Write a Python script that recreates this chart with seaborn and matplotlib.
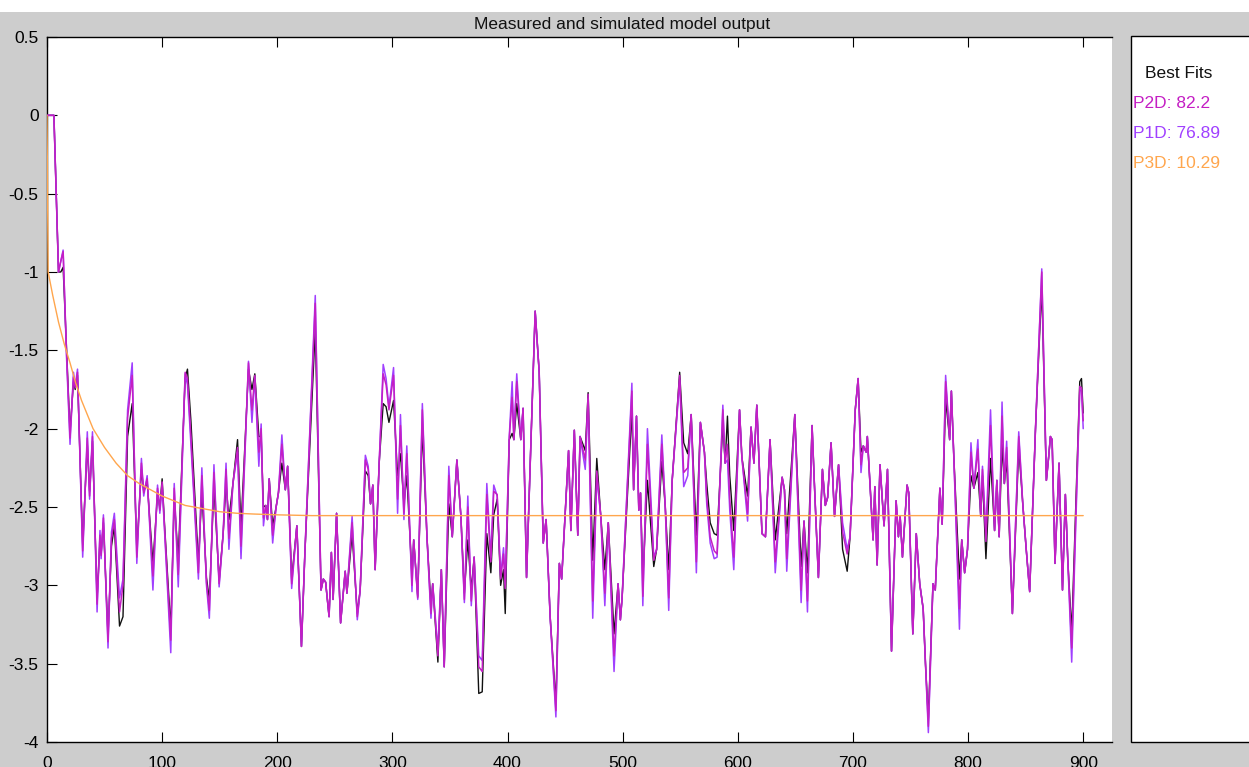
import numpy as np
import pandas as pd
import seaborn as sns
import matplotlib
matplotlib.use("Agg")
import matplotlib.pyplot as plt
from matplotlib.patches import Rectangle

# sample index of the turning points
t = [0, 6, 10, 12, 14, 17, 20, 23, 24.5, 26.5,
     31, 35, 37, 39.5, 43.5, 46, 47, 49, 53, 56,
     58.5, 63, 66, 70, 74, 78, 82, 84, 87, 92,
     96, 98, 100, 102, 107.5, 110.5, 114, 120, 122, 125,
     131.5, 134.5, 138.5, 141, 145, 149.5, 153, 155.5, 158, 161.5,
     165.5, 168.5, 175, 178, 180.5, 184, 186, 188, 190, 191.5,
     193, 196, 199, 201, 204, 207, 209, 212.5, 217, 221,
     224, 233, 238, 240, 242, 245, 247, 248.5, 251.5, 255,
     259, 260.5, 265, 269.5, 272, 276.5, 279, 281, 283, 285,
     288.5, 292, 294.5, 297, 301, 304.5, 307, 310, 312.5, 317,
     318.5, 322, 326, 330, 333.5, 335, 339.5, 342.5, 345, 349,
     352, 356, 359.5, 362.5, 365.5, 368.5, 371, 375, 378, 382,
     385.5, 388, 391, 394, 396.5, 398, 401.5, 404, 405.5, 408,
     411.5, 413.5, 416.5, 424, 427.5, 431, 433.5, 437, 442, 445,
     447, 453, 455, 458, 461, 463, 467.5, 470, 474, 477.5,
     481, 484.5, 487.5, 492.5, 496, 498, 499.5, 508, 509.5, 512,
     514, 515.5, 517.5, 521.5, 527, 529.5, 534, 537, 540, 543,
     549.5, 553, 556.5, 559.5, 564, 567.5, 571, 573, 576, 579.5,
     582, 587, 589, 591, 593, 596.5, 601.5, 603.5, 608.5, 611.5,
     614, 616.5, 621, 624, 628, 632.5, 638.5, 640.5, 642.5, 649.5,
     655, 657.5, 660.5, 664.5, 666.5, 670, 673.5, 676, 678, 681,
     684, 687.5, 691, 695, 697.5, 702, 704.5, 707, 709, 711.5,
     712.5, 717.5, 719, 721, 723.5, 727, 730, 733.5, 737.5, 739.5,
     741, 743, 747, 748.5, 752, 755, 758, 761, 763, 765.5,
     769.5, 771.5, 775.5, 777.5, 780.5, 784, 785.5, 787.5, 792.5, 794.5,
     797, 799.5, 802.5, 805, 808.5, 811, 812.5, 815.5, 819.5, 823,
     825, 827, 829.5, 831.5, 833.5, 838.5, 844, 847.5, 850.5, 853.5,
     858.5, 864, 868, 870, 871.5, 873, 875.5, 879, 882, 884.5,
     886.5, 890, 897, 898.5, 900]

measured = [0, 0, -1.0, -1.0, -0.97, -1.5, -2.02, -1.7, -1.75, -1.66,
            -2.74, -2.1, -2.4, -2.08, -3.08, -2.72, -2.8, -2.6, -3.32, -2.75,
            -2.62, -3.26, -3.2, -2.05, -1.84, -2.77, -2.26, -2.4, -2.34, -2.86,
            -2.42, -2.5, -2.32, -2.6, -3.28, -2.45, -2.83, -1.68, -1.62, -1.95,
            -2.86, -2.4, -2.95, -3.09, -2.37, -2.97, -2.67, -2.35, -2.58, -2.35,
            -2.07, -2.63, -1.62, -1.75, -1.65, -2.05, -2.05, -2.5, -2.49, -2.58,
            -2.32, -2.62, -2.5, -2.41, -2.22, -2.39, -2.24, -2.96, -2.62, -3.39,
            -2.79, -1.36, -3.03, -2.96, -2.98, -3.2, -2.79, -3.09, -2.54, -3.24,
            -2.91, -3.05, -2.67, -3.18, -3.03, -2.27, -2.3, -2.48, -2.36, -2.9,
            -2.22, -1.84, -1.86, -1.96, -1.82, -2.3, -2.16, -2.48, -2.3, -2.94,
            -2.71, -3.07, -1.99, -2.69, -3.13, -2.99, -3.49, -2.9, -3.52, -2.48,
            -2.69, -2.2, -2.56, -3.05, -2.71, -3.03, -2.82, -3.69, -3.68, -2.67,
            -2.92, -2.55, -2.45, -3.0, -2.9, -3.18, -2.07, -2.03, -2.07, -1.84,
            -2.07, -1.87, -2.95, -1.25, -1.64, -2.73, -2.58, -3.2, -3.75, -2.86,
            -2.96, -2.14, -2.65, -2.01, -2.68, -2.05, -2.14, -1.77, -2.84, -2.19,
            -2.56, -2.9, -2.6, -3.31, -2.99, -3.22, -3.08, -1.88, -2.39, -1.92,
            -2.52, -2.41, -2.96, -2.33, -2.88, -2.77, -2.21, -2.5, -2.9, -2.33,
            -1.64, -2.09, -2.16, -1.91, -2.68, -1.96, -2.15, -2.35, -2.6, -2.67,
            -2.68, -1.97, -2.22, -1.92, -2.3, -2.65, -1.88, -2.18, -2.43, -1.99,
            -2.22, -1.85, -2.67, -2.69, -2.07, -2.71, -2.31, -2.39, -2.67, -1.91,
            -2.88, -2.59, -2.92, -1.98, -2.35, -2.95, -2.26, -2.49, -2.44, -2.09,
            -2.56, -2.23, -2.77, -2.91, -2.69, -1.88, -1.68, -2.15, -2.11, -2.15,
            -2.05, -2.71, -2.37, -2.87, -2.23, -2.62, -2.26, -3.42, -2.46, -2.69,
            -2.56, -2.82, -2.36, -2.41, -3.31, -2.67, -2.99, -3.15, -3.5, -3.85,
            -2.99, -3.03, -2.38, -2.61, -1.81, -2.07, -1.76, -2.16, -2.96, -2.71,
            -2.92, -2.77, -2.3, -2.38, -2.28, -2.56, -2.3, -2.83, -2.19, -2.65,
            -2.33, -2.69, -2.1, -2.35, -2.2, -3.18, -2.12, -2.48, -2.77, -3.04,
            -2.01, -1.09, -2.33, -2.18, -2.05, -2.07, -2.86, -2.22, -3.03, -2.42,
            -2.82, -3.3, -1.7, -1.68, -1.9]

p2d = [0, 0, -1.0, -0.93, -0.87, -1.52, -2.06, -1.67, -1.74, -1.64,
       -2.78, -2.06, -2.43, -2.05, -3.12, -2.68, -2.81, -2.57, -3.36, -2.7,
       -2.58, -3.17, -3.0, -1.93, -1.66, -2.82, -2.22, -2.41, -2.32, -2.94,
       -2.38, -2.52, -2.34, -2.62, -3.35, -2.38, -2.93, -1.64, -1.68, -2.05,
       -2.92, -2.3, -2.98, -3.16, -2.28, -2.99, -2.67, -2.26, -2.7, -2.35,
       -2.12, -2.75, -1.58, -1.88, -1.66, -2.15, -2.0, -2.57, -2.49, -2.58,
       -2.32, -2.68, -2.5, -2.41, -2.1, -2.39, -2.24, -2.99, -2.62, -3.39,
       -2.79, -1.2, -3.03, -2.96, -2.98, -3.2, -2.79, -3.09, -2.54, -3.24,
       -2.91, -3.05, -2.6, -3.2, -3.03, -2.2, -2.26, -2.48, -2.36, -2.9,
       -2.22, -1.65, -1.72, -1.88, -1.66, -2.45, -1.98, -2.54, -2.16, -3.0,
       -2.71, -3.08, -1.88, -2.69, -3.18, -2.99, -3.45, -2.9, -3.52, -2.3,
       -2.69, -2.2, -2.56, -3.09, -2.5, -3.1, -2.82, -3.52, -3.55, -2.42,
       -2.85, -2.4, -2.42, -2.96, -2.8, -3.02, -2.06, -1.8, -2.07, -1.7,
       -2.07, -1.87, -2.95, -1.25, -1.64, -2.73, -2.58, -3.2, -3.8, -2.86,
       -2.96, -2.14, -2.65, -2.01, -2.68, -2.05, -2.2, -1.78, -3.1, -2.27,
       -2.56, -3.05, -2.6, -3.45, -2.99, -3.22, -3.08, -1.76, -2.39, -1.92,
       -2.52, -2.41, -3.07, -2.1, -2.84, -2.77, -2.1, -2.5, -3.08, -2.33,
       -1.66, -2.28, -2.25, -1.91, -2.85, -1.96, -2.15, -2.44, -2.69, -2.78,
       -2.8, -1.88, -2.22, -2.1, -2.45, -2.82, -1.88, -2.18, -2.54, -1.99,
       -2.22, -1.85, -2.67, -2.69, -2.07, -2.85, -2.31, -2.39, -2.83, -1.91,
       -3.03, -2.59, -3.1, -1.98, -2.35, -2.95, -2.26, -2.49, -2.44, -2.09,
       -2.56, -2.23, -2.66, -2.8, -2.69, -1.88, -1.68, -2.23, -2.11, -2.15,
       -2.05, -2.71, -2.37, -2.87, -2.23, -2.62, -2.26, -3.42, -2.46, -2.69,
       -2.56, -2.82, -2.36, -2.41, -3.31, -2.67, -2.99, -3.15, -3.5, -3.9,
       -2.99, -3.03, -2.38, -2.61, -1.7, -2.07, -1.76, -2.16, -3.15, -2.71,
       -2.92, -2.77, -2.15, -2.38, -2.13, -2.56, -2.26, -2.72, -1.98, -2.65,
       -2.33, -2.69, -1.92, -2.35, -2.12, -3.18, -2.05, -2.48, -2.77, -3.04,
       -2.01, -1.0, -2.33, -2.18, -2.05, -2.07, -2.86, -2.22, -3.03, -2.42,
       -2.82, -3.4, -1.73, -1.74, -1.95]

p1d = [0, 0, -1.0, -0.93, -0.86, -1.55, -2.1, -1.64, -1.73, -1.62,
       -2.82, -2.02, -2.45, -2.02, -3.17, -2.65, -2.83, -2.55, -3.4, -2.66,
       -2.54, -3.08, -2.96, -1.88, -1.58, -2.86, -2.19, -2.43, -2.3, -3.03,
       -2.36, -2.54, -2.36, -2.64, -3.43, -2.35, -3.01, -1.65, -1.72, -2.1,
       -2.96, -2.25, -3.0, -3.21, -2.23, -3.01, -2.67, -2.22, -2.77, -2.35,
       -2.15, -2.83, -1.57, -1.96, -1.67, -2.24, -1.97, -2.62, -2.49, -2.58,
       -2.32, -2.73, -2.5, -2.41, -2.04, -2.39, -2.24, -3.02, -2.62, -3.39,
       -2.79, -1.15, -3.03, -2.96, -2.98, -3.2, -2.79, -3.09, -2.54, -3.24,
       -2.91, -3.05, -2.56, -3.22, -3.03, -2.17, -2.24, -2.48, -2.36, -2.9,
       -2.22, -1.59, -1.68, -1.86, -1.61, -2.54, -1.91, -2.58, -2.11, -3.04,
       -2.71, -3.09, -1.84, -2.69, -3.21, -2.99, -3.41, -2.9, -3.52, -2.24,
       -2.69, -2.2, -2.56, -3.11, -2.43, -3.13, -2.82, -3.45, -3.48, -2.35,
       -2.82, -2.36, -2.43, -2.94, -2.76, -2.99, -2.05, -1.7, -2.07, -1.65,
       -2.07, -1.87, -2.95, -1.25, -1.64, -2.73, -2.58, -3.2, -3.84, -2.86,
       -2.96, -2.14, -2.65, -2.01, -2.68, -2.05, -2.26, -1.81, -3.21, -2.31,
       -2.56, -3.13, -2.6, -3.55, -2.99, -3.22, -3.08, -1.71, -2.39, -1.92,
       -2.52, -2.41, -3.13, -2.0, -2.82, -2.77, -2.04, -2.5, -3.16, -2.33,
       -1.69, -2.37, -2.3, -1.91, -2.92, -1.96, -2.15, -2.48, -2.73, -2.83,
       -2.82, -1.85, -2.22, -2.2, -2.52, -2.9, -1.88, -2.18, -2.59, -1.99,
       -2.22, -1.85, -2.67, -2.69, -2.07, -2.92, -2.31, -2.39, -2.91, -1.91,
       -3.11, -2.59, -3.17, -1.98, -2.35, -2.95, -2.26, -2.49, -2.44, -2.09,
       -2.56, -2.23, -2.6, -2.77, -2.69, -1.88, -1.68, -2.28, -2.11, -2.15,
       -2.05, -2.71, -2.37, -2.87, -2.23, -2.62, -2.26, -3.42, -2.46, -2.69,
       -2.56, -2.82, -2.36, -2.41, -3.31, -2.67, -2.99, -3.15, -3.5, -3.94,
       -2.99, -3.03, -2.38, -2.61, -1.66, -2.07, -1.76, -2.16, -3.28, -2.71,
       -2.92, -2.77, -2.09, -2.38, -2.07, -2.56, -2.24, -2.67, -1.88, -2.65,
       -2.33, -2.69, -1.83, -2.35, -2.08, -3.18, -2.02, -2.48, -2.77, -3.04,
       -2.01, -0.98, -2.33, -2.18, -2.05, -2.07, -2.86, -2.22, -3.03, -2.42,
       -2.82, -3.49, -1.76, -1.75, -2.0]

# P3D response (smooth decay, read at a few points)
t3 = [0, 1, 5, 10, 15, 20, 25, 30, 40, 50, 60, 70, 80, 90, 100,
      110, 120, 135, 150, 165, 180, 200, 230, 300, 900]
p3d = [0, -1.0, -1.15, -1.32, -1.46, -1.58, -1.71, -1.82, -2.0, -2.12, -2.22,
       -2.3, -2.35, -2.39, -2.43, -2.46, -2.49, -2.51, -2.53, -2.54, -2.545,
       -2.55, -2.555, -2.555, -2.555]

fit_names = ["P2D", "P1D", "P3D"]
fit_values = ["82.2", "76.89", "10.29"]
colors = {"meas": "#111111", "P2D": "#c41ec4", "P1D": "#a040ff", "P3D": "#ffa64d"}

sns.set_style("white")
plt.rcParams["font.family"] = ["Liberation Sans", "DejaVu Sans"]

W, H = 1249, 767
fig = plt.figure(figsize=(W / 100, H / 100), dpi=100, facecolor="#cdcdcd")
fig.add_artist(Rectangle((0, 1 - 12 / H), 1, 12 / H, transform=fig.transFigure,
                         facecolor="white", edgecolor="none"))

ax = fig.add_axes([47 / W, 1 - 742 / H, (1112 - 47) / W, (742 - 37) / H])
ax.set_facecolor("white")

df = pd.DataFrame({"t": t, "meas": measured, "P2D": p2d, "P1D": p1d})
df3 = pd.DataFrame({"t": t3, "P3D": p3d})

sns.lineplot(data=df, x="t", y="meas", ax=ax, color=colors["meas"], lw=1.0,
             estimator=None, sort=False, zorder=2)
sns.lineplot(data=df, x="t", y="P1D", ax=ax, color=colors["P1D"], lw=1.1,
             estimator=None, sort=False, zorder=3)
sns.lineplot(data=df, x="t", y="P2D", ax=ax, color=colors["P2D"], lw=1.1,
             estimator=None, sort=False, zorder=4)
sns.lineplot(data=df3, x="t", y="P3D", ax=ax, color=colors["P3D"], lw=1.0,
             estimator=None, sort=False, zorder=5)

ax.set_xlim(0, 925)
ax.set_ylim(-4, 0.5)
ax.set_xlabel("")
ax.set_ylabel("")
xt = np.arange(0, 901, 100)
ax.set_xticks(xt)
ax.set_xticklabels([str(v) for v in xt])
yt = np.arange(-4, 0.51, 0.5)
ax.set_yticks(yt)
ax.set_yticklabels(["%g" % v for v in yt])
ax.tick_params(axis="both", direction="in", length=7, width=0.8, colors="black",
               labelsize=12.5)
ax.tick_params(axis="x", top=True, bottom=True, pad=10)
ax.tick_params(axis="y", left=True, right=False, pad=6)
for side in ["left", "top", "bottom"]:
    ax.spines[side].set_visible(True)
    ax.spines[side].set_color("black")
    ax.spines[side].set_linewidth(1.0)
ax.spines["right"].set_visible(False)

fig.text(622 / W, 1 - 24 / H, "Measured and simulated model output",
         ha="center", va="center", fontsize=12.5, color="#111111")

# best-fit panel on the right
fig.add_artist(Rectangle((1131 / W, 1 - 742 / H), 0.2, (742 - 36) / H,
                         transform=fig.transFigure, facecolor="white",
                         edgecolor="black", lw=1.0))
fig.text(1145 / W, 1 - 73 / H, "Best Fits", ha="left", va="center",
         fontsize=12.5, color="#111111")
for i, (name, val) in enumerate(zip(fit_names, fit_values)):
    fig.text(1133 / W, 1 - (103 + 30 * i) / H, f"{name}: {val}", ha="left",
             va="center", fontsize=12.5, color=colors[name])

fig.savefig("out.png", dpi=100, facecolor=fig.get_facecolor())
